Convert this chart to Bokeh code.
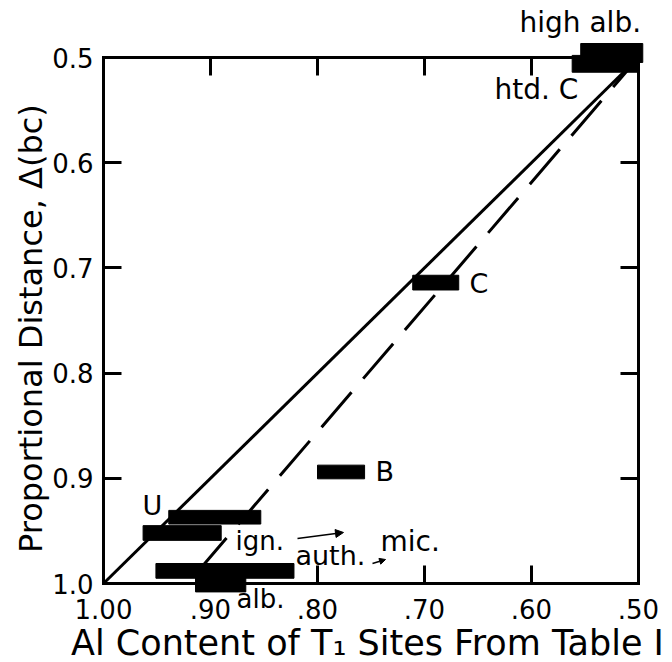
import math
from bokeh.plotting import figure
from bokeh.models import Range1d, FixedTicker, LinearAxis, Label, Arrow, NormalHead, ColumnDataSource
from bokeh.embed import file_html
from bokeh.resources import INLINE

# ---- data ----
bar_names = ["high alb.", "htd. C", "C", "B", "U", "ign.", "auth.", "alb."]
bar_left = [0.554, 0.562, 0.711, 0.800, 0.939, 0.963, 0.951, 0.914]
bar_right = [0.496, 0.500, 0.668, 0.756, 0.853, 0.890, 0.822, 0.867]
bar_y = [0.4957, 0.506, 0.714, 0.894, 0.937, 0.952, 0.988, 0.997]
bar_h = [0.018, 0.016, 0.014, 0.013, 0.013, 0.014, 0.014, 0.022]

solid_x = [1.00, 0.50]
solid_y = [1.00, 0.50]
dashed_x = [0.913, 0.50]
dashed_y = [0.990, 0.50]

x_ticks = [1.0, 0.9, 0.8, 0.7, 0.6, 0.5]
x_tick_labels = ["1.00", ".90", ".80", ".70", ".60", ".50"]
y_ticks = [0.5, 0.6, 0.7, 0.8, 0.9, 1.0]
y_tick_labels = ["0.5", "0.6", "0.7", "0.8", "0.9", "1.0"]

FONT = "DejaVu Sans"

# ---- layout: the axes box (0.5..1.0 on both) sits inside a frame covering the canvas ----
W, H = 672, 662
BOX_L, BOX_R, BOX_T, BOX_B = 103, 638, 57, 583
sx = (BOX_R - BOX_L) / 0.5   # px per unit x
sy = (BOX_B - BOX_T) / 0.5   # px per unit y
x_range = Range1d(1.0 + BOX_L / sx, 0.5 - (W - BOX_R) / sx)
y_range = Range1d(1.0 + (H - BOX_B) / sy, 0.5 - BOX_T / sy)
SHIFT_EM = 0.38  # label baseline correction

p = figure(width=W, height=H, output_backend="svg", toolbar_location=None,
           x_range=x_range, y_range=y_range,
           min_border=0, min_border_left=0, min_border_right=0,
           min_border_top=0, min_border_bottom=0,
           background_fill_color="white", border_fill_color="white")
p.grid.visible = False
p.outline_line_color = None

xt = FixedTicker(ticks=x_ticks)
yt = FixedTicker(ticks=y_ticks)

def style_axis(ax, ticker, loc):
    ax.ticker = ticker
    ax.fixed_location = loc
    ax.bounds = (0.5, 1.0)
    ax.major_tick_in = 18
    ax.major_tick_out = 0
    ax.minor_tick_line_color = None
    ax.major_tick_line_width = 3
    ax.axis_line_width = 3
    ax.axis_line_cap = "square"
    ax.major_tick_line_color = "black"
    ax.axis_line_color = "black"
    ax.major_label_text_font = FONT
    ax.major_label_text_color = "black"
    ax.major_label_text_font_size = "26px"

xa = p.xaxis[0]
style_axis(xa, xt, 1.0)
xa.major_label_overrides = {t: l for t, l in zip(x_ticks, x_tick_labels)}
xa.major_label_standoff = 15

ya = p.yaxis[0]
style_axis(ya, yt, 1.0)
ya.major_label_overrides = {t: l for t, l in zip(y_ticks, y_tick_labels)}
ya.major_label_standoff = 10

top = LinearAxis()
style_axis(top, xt, 0.5)
top.major_label_text_color = None
p.add_layout(top, "above")

right = LinearAxis()
style_axis(right, yt, 0.5)
right.major_label_text_color = None
p.add_layout(right, "right")

# axis titles
fs = 35
p.add_layout(Label(x=0.7533, y=1.0694 - SHIFT_EM * fs / sy, text="Al Content of T\u2081 Sites From Table I",
                   text_font=FONT, text_font_size=f"{fs}px", text_color="black",
                   text_align="center", text_baseline="alphabetic"))
fs = 32
p.add_layout(Label(x=1.0561 + SHIFT_EM * fs / sx, y=0.7529, text="Proportional Distance,  \u0394(bc)",
                   angle=math.pi / 2, text_font=FONT, text_font_size=f"{fs}px", text_color="black",
                   text_align="center", text_baseline="alphabetic"))

# lines
p.line(solid_x, solid_y, line_color="black", line_width=3)
p.line(dashed_x, dashed_y, line_color="black", line_width=3, line_dash="46 18")

# bars
src = ColumnDataSource(dict(
    name=bar_names,
    left=bar_left, right=bar_right,
    top=[y - h / 2 for y, h in zip(bar_y, bar_h)],
    bottom=[y + h / 2 for y, h in zip(bar_y, bar_h)],
))
p.quad(left="left", right="right", top="top", bottom="bottom", source=src,
       fill_color="black", line_color="black", line_width=1)

# text labels (data-anchored: left edge, baseline)
labels = [
    ("high alb.", 0.6112, 0.4772, 28),
    ("htd. C", 0.6346, 0.5409, 28),
    ("C", 0.6579, 0.7243, 27),
    ("B", 0.7458, 0.9030, 27),
    ("U", 0.9636, 0.9354, 27),
    ("ign.", 0.8766, 0.9686, 26),
    ("auth.", 0.8206, 0.9829, 27),
    ("mic.", 0.7411, 0.9705, 28),
    ("alb.", 0.8757, 1.0238, 26),
]
for txt, lx, ly, size in labels:
    p.add_layout(Label(x=lx, y=ly - SHIFT_EM * size / sy, text=txt, text_font=FONT,
                       text_font_size=f"{size}px", text_color="black",
                       text_align="left", text_baseline="alphabetic"))

p.add_layout(Arrow(end=NormalHead(size=8, fill_color="black", line_color="black"),
                   x_start=0.8187, y_start=0.9572, x_end=0.7757, y_end=0.9515,
                   line_width=1.5, line_color="black"))
p.add_layout(Arrow(end=NormalHead(size=6, fill_color="black", line_color="black"),
                   x_start=0.7486, y_start=0.9810, x_end=0.7364, y_end=0.9772,
                   line_width=1.5, line_color="black"))

open("out.html", "w").write(file_html(p, INLINE))
